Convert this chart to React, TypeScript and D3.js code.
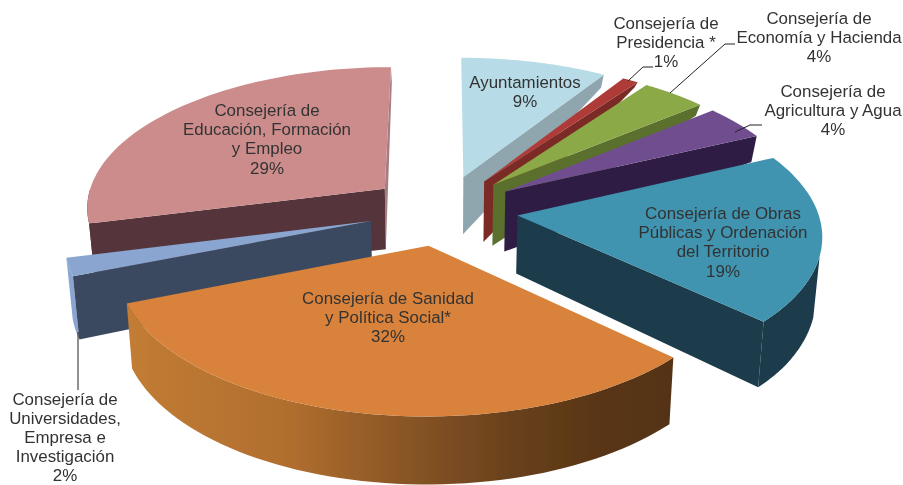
import React from "react";
import * as d3 from "d3";

// ---- data ----
const names = ["Ayuntamientos","Presidencia","Economia","Agricultura","Obras","Sanidad","Universidades","Educacion"];
const shares = [9, 1, 4, 4, 19, 32, 2, 29];
const labelLines = [
  ["Ayuntamientos", "9%"],
  ["Consejería de", "Presidencia *", "1%"],
  ["Consejería de", "Economía y Hacienda", "4%"],
  ["Consejería de", "Agricultura y Agua", "4%"],
  ["Consejería de Obras", "Públicas y Ordenación", "del Territorio", "19%"],
  ["Consejería de Sanidad", "y Política Social*", "32%"],
  ["Consejería de", "Universidades,", "Empresa e", "Investigación", "2%"],
  ["Consejería de", "Educación, Formación", "y Empleo", "29%"],
];

// ---- styles / layout (separate from the values) ----
const topColors = ["#B7DCE7","#AE3B37","#8BA946","#6F4E8E","#3F94B0","#D8823A","#8AA6D0","#CC8C8C"];
const wallColors = ["#90A6AE","#7C2A27","#5B702E","#2F1E44","#1B3B4B","url(#orangeWall)","#3B4A61","#54363A"];
const rimColors = ["#90A6AE","#7C2A27","#5B702E","#2F1E44","#1B3B4B","url(#orangeWall)","#8AA6D0","#54363A"];
const endWallColors = ["#90A6AE","#7C2A27","#5B702E","#2F1E44","#1B3B4B","#5A3614","#3B4A61","#A87C82"];
const labelX = [525, 666, 819, 833, 723, 388, 65, 267];
const labelY = [82, 23, 18, 91, 213, 298, 398.7, 110];
const labelStep = 19.2;
const drawOrder = [0, 1, 2, 3, 7, 4, 6, 5];
const leaders = [
  [[653, 67], [643, 67], [628, 81]],
  [[735, 44], [725, 44], [670, 93]],
  [[762, 125], [750, 125], [735, 132]],
  [[78, 332], [78, 390]],
];

// projection of the pie plane (radius = 1) seen in perspective
const cx = 443, cy = 210, S = 300, B = 0.47, K = 0.12, EXPLODE = 0.25, BOTTOM_X = 0.983;
const RIM_START = (106 / 180) * Math.PI; // the outer wall shows from here on
const depthAt = d3.scaleLinear()
  .domain([1.1, 1.02, 0.82, 0.56, 0.2, -0.04, -0.6, -1.25])
  .range([15, 5, 11, 26, 61, 58, 65, 68])
  .clamp(true);

type P = [number, number];
const topPt = (X: number, Y: number): P => {
  const w = 1 + K * Y;
  return [cx + (S * X) / w, cy - (S * B * Y) / w];
};
const botPt = (X: number, Y: number): P => {
  const [x, y] = topPt(X, Y);
  return [cx + (x - cx) * BOTTOM_X, y + depthAt(Y)];
};

const arcs = d3.pie<number>().sort(null).startAngle(0).endAngle(2 * Math.PI)(shares);
const line = d3.line<P>();

function sliceGeom(i: number) {
  const a = arcs[i];
  const mid = (a.startAngle + a.endAngle) / 2;
  const ax = EXPLODE * Math.sin(mid), ay = EXPLODE * Math.cos(mid);
  const at = (t: number): P => [ax + Math.sin(t), ay + Math.cos(t)];
  const samples = (t0: number, t1: number) =>
    d3.range(0, 61).map((k) => at(t0 + ((t1 - t0) * k) / 60));
  const radial = (t: number): P[] => [[ax, ay], at(t)];
  const wall = (pts: P[]) =>
    line([...pts.map((p) => topPt(p[0], p[1])), ...pts.slice().reverse().map((p) => botPt(p[0], p[1]))])! + "Z";

  const paths: { d: string; fill: string }[] = [];
  const s = a.startAngle, e = a.endAngle;
  const rimFrom = Math.max(s, RIM_START), rimTo = Math.min(e, 1.5 * Math.PI);
  if (e > 6.2) paths.push({ d: wall(radial(e)), fill: endWallColors[i] });
  if (rimTo > rimFrom) paths.push({ d: wall(samples(rimFrom, rimTo)), fill: rimColors[i] });
  if (e <= Math.PI) paths.push({ d: wall(radial(e)), fill: wallColors[i] });
  if (s >= Math.PI) paths.push({ d: wall(radial(s)), fill: wallColors[i] });
  const face = [[ax, ay] as P, ...samples(s, e)].map((p) => topPt(p[0], p[1]));
  paths.push({ d: line(face)! + "Z", fill: topColors[i] });
  return paths;
}

export default function App() {
  return (
    <svg width={903} height={485} viewBox="0 0 903 485"
      style={{ position: "absolute", left: 0, top: 0, display: "block", background: "#fff" }}>
      <defs>
        <linearGradient id="orangeWall" gradientUnits="userSpaceOnUse" x1={128} x2={673} y1={0} y2={0}>
          <stop offset="0" stopColor="#C27C34" />
          <stop offset="0.3" stopColor="#B06E2E" />
          <stop offset="0.5" stopColor="#8A5626" />
          <stop offset="0.7" stopColor="#69411D" />
          <stop offset="0.85" stopColor="#5A3615" />
          <stop offset="1" stopColor="#553313" />
        </linearGradient>
        <filter id="soft" x="0" y="0" width="100%" height="100%">
          <feGaussianBlur stdDeviation="0.45" />
        </filter>
      </defs>
      <g filter="url(#soft)">
        {drawOrder.map((i) => (
          <g key={names[i]}>
            {sliceGeom(i).map((p, j) => <path key={j} d={p.d} fill={p.fill} />)}
          </g>
        ))}
        {leaders.map((l, i) => (
          <path key={i} d={line(l as P[])!} fill="none" stroke="#222" strokeWidth={1} />
        ))}
        <g fontFamily="'Liberation Sans', Arial, sans-serif" fontSize={16.9} fill="#333" textAnchor="middle">
          {labelLines.map((lines, i) => (
            <text key={names[i]}>
              {lines.map((t, j) => (
                <tspan key={j} x={labelX[i]} y={labelY[i] + j * labelStep} dy="0.35em">{t}</tspan>
              ))}
            </text>
          ))}
        </g>
      </g>
    </svg>
  );
}
